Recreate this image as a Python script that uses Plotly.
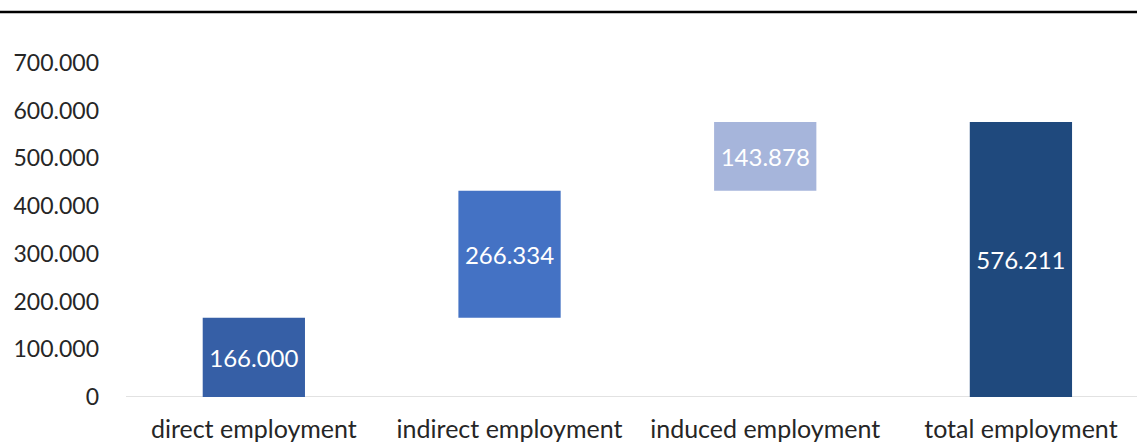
import plotly.graph_objects as go

# Employment effects (persons)
categories = ["direct employment", "indirect employment", "induced employment", "total employment"]
contributions = [166000, 266334, 143878]
total_employment = 576211
bar_colors = ["#365FA6", "#4472C4", "#A6B5DB", "#1F497D"]

# Floating bars: each contribution starts where the previous one ended,
# the total bar starts from zero.
values = contributions + [total_employment]
bases = []
running = 0
for v in contributions:
    bases.append(running)
    running += v
bases.append(0)

FONT = "Lato"

fig = go.Figure(
    go.Bar(
        x=categories,
        y=values,
        base=bases,
        width=0.4,
        marker=dict(color=bar_colors, line=dict(width=0)),
        texttemplate="%{y:,.0f}",
        textposition="inside",
        insidetextanchor="middle",
        textangle=0,
        textfont=dict(family=FONT, size=24, color="white"),
        constraintext="none",
        hoverinfo="skip",
    )
)

fig.update_layout(
    width=1137,
    height=443,
    margin=dict(l=126, r=0, t=63, b=46),
    paper_bgcolor="white",
    plot_bgcolor="white",
    separators=",.",
    showlegend=False,
    font=dict(family=FONT, color="#262626"),
    xaxis=dict(
        type="category",
        range=[-0.5, 3.454],
        showgrid=False,
        zeroline=False,
        showline=False,
        ticks="",
        tickfont=dict(family=FONT, size=25, color="#262626"),
        ticklabelstandoff=15,
    ),
    yaxis=dict(
        range=[0, 700000],
        dtick=100000,
        tickformat=",d",
        showgrid=False,
        zeroline=False,
        showline=False,
        ticks="",
        tickfont=dict(family=FONT, size=23, color="#262626"),
        ticklabelstandoff=26,
    ),
    shapes=[
        # baseline of the value axis
        dict(type="line", xref="paper", yref="y", x0=0, x1=1, y0=0, y1=0,
             line=dict(color="#D9D9D9", width=1.5), layer="below"),
        # rule across the top of the figure
        dict(type="line", xref="paper", yref="paper", x0=-126 / 1011, x1=1,
             y0=(397 - 12) / 334, y1=(397 - 12) / 334,
             line=dict(color="black", width=2.5)),
    ],
)

fig.write_html("out.html")
